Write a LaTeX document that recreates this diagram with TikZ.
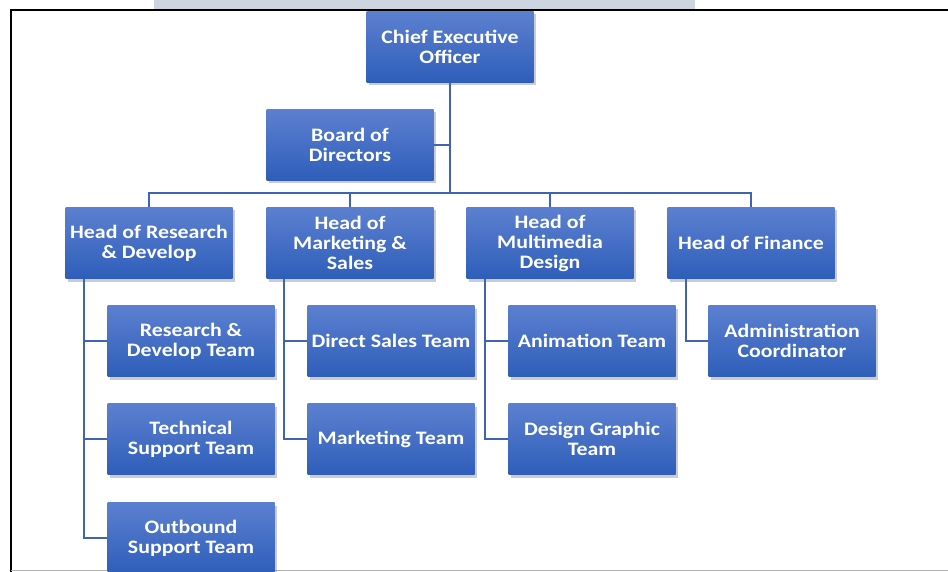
\documentclass[tikz,border=0pt]{standalone}
\usepackage{fontspec}
\setmainfont{Carlito}[FakeStretch=1.15]
\usetikzlibrary{shadows}
\definecolor{boxtop}{RGB}{92,128,208}
\definecolor{boxbot}{RGB}{46,94,186}
\definecolor{linkblue}{RGB}{62,100,178}
\definecolor{bandgray}{RGB}{205,214,224}

\begin{document}
\begin{tikzpicture}[x=1pt, y=-1pt,
    box/.style={top color=boxtop, bottom color=boxbot, minimum width=167pt, minimum height=71pt,
      inner sep=1pt, align=center, text=white, font=\fontsize{19}{20}\selectfont\bfseries,
      drop shadow={shadow xshift=2pt, shadow yshift=-3pt, opacity=0.4}},
    link/.style={draw=linkblue, line width=2pt}]
            \useasboundingbox (0,0) rectangle (948,572);
            \fill[bandgray] (154,0) rectangle (695,9);
            \draw[line width=2pt] (948,10) -- (11,10) -- (11,572);
            \draw[gray!60, line width=1pt] (11,570) -- (948,570);

            \node[box] (ceo) at (450,47) {Chief Executive\\Officer};
            \node[box] (board) at (350,145) {Board of\\Directors};
            \node[box] (hrd) at (149,243) {Head of Research\\\& Develop};
            \node[box] (hmk) at (350,243) {Head of\\Marketing \&\\Sales};
            \node[box] (hmm) at (550,243) {Head of\\Multimedia\\Design};
            \node[box] (hfin) at (751,243) {Head of Finance};
            \node[box] (rdteam) at (191,341) {Research \&\\Develop Team};
            \node[box] (tsteam) at (191,439) {Technical\\Support Team};
            \node[box] (obteam) at (191,538) {Outbound\\Support Team};
            \node[box] (dsteam) at (391,341) {Direct Sales Team};
            \node[box] (mkteam) at (391,439) {Marketing Team};
            \node[box] (anteam) at (592,341) {Animation Team};
            \node[box] (dgteam) at (592,439) {Design Graphic\\Team};
            \node[box] (admin) at (792,341) {Administration\\Coordinator};

            \coordinate (bus) at (450,193);
            \draw[link] (ceo.south) -- (ceo.south |- bus);
            \draw[link] (board.east) -- (board.east -| ceo.south);
            \draw[link] (hrd.north) -- (hrd.north |- bus) -| (hfin.north);
            \draw[link] (hmk.north) -- (hmk.north |- bus);
            \draw[link] (hmm.north) -- (hmm.north |- bus);

            \draw[link] ([xshift=19pt]hrd.south west) |- (rdteam.west);
            \draw[link] ([xshift=19pt]hrd.south west) |- (tsteam.west);
            \draw[link] ([xshift=19pt]hrd.south west) |- (obteam.west);
            \draw[link] ([xshift=18pt]hmk.south west) |- (dsteam.west);
            \draw[link] ([xshift=18pt]hmk.south west) |- (mkteam.west);
            \draw[link] ([xshift=19pt]hmm.south west) |- (anteam.west);
            \draw[link] ([xshift=19pt]hmm.south west) |- (dgteam.west);
            \draw[link] ([xshift=19pt]hfin.south west) |- (admin.west);
        \end{tikzpicture}
\end{document}
